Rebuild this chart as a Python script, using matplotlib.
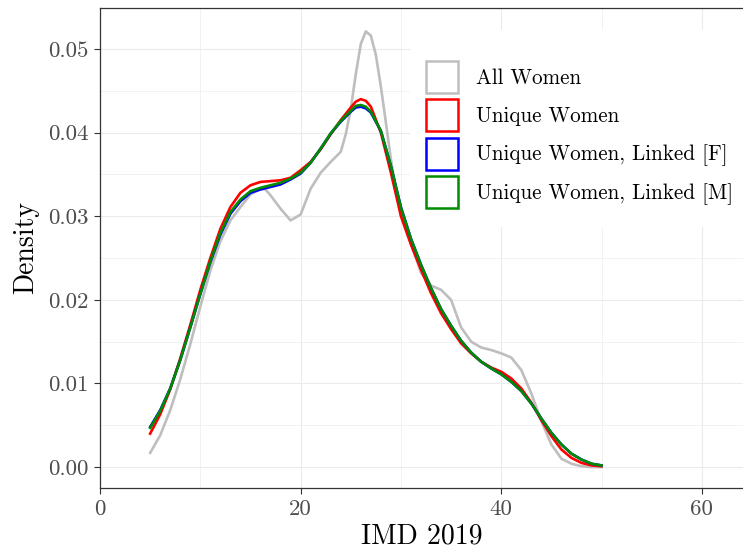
import matplotlib
matplotlib.use("Agg")
import matplotlib.pyplot as plt
from matplotlib.patches import Patch, Rectangle
from matplotlib.ticker import MultipleLocator

plt.rcParams["font.family"] = "cmr10"
plt.rcParams["mathtext.fontset"] = "cm"
plt.rcParams["axes.formatter.use_mathtext"] = True

x_all = [5, 6, 7, 8, 9, 10, 11, 12, 13, 14, 15, 16, 16.5, 17, 18, 19, 20, 21, 22, 23, 24,
         24.5, 25, 25.5, 26, 26.5, 27, 27.5, 28, 28.5, 29, 29.5, 30, 31, 32, 33, 34, 35, 36,
         37, 38, 39, 40, 41, 42, 43, 44, 45, 46, 47, 48, 49, 50]
y_all = [0.0017, 0.0038, 0.0068, 0.0105, 0.0147, 0.0192, 0.0235, 0.0270, 0.0295, 0.0311,
         0.0326, 0.0333, 0.0332, 0.0325, 0.0309, 0.0295, 0.0302, 0.0333, 0.0352, 0.0365,
         0.0377, 0.0398, 0.0428, 0.0470, 0.0506, 0.0521, 0.0516, 0.0493, 0.0455, 0.0412,
         0.0368, 0.0332, 0.0302, 0.0268, 0.0232, 0.0217, 0.0212, 0.0200, 0.0167, 0.0150,
         0.0143, 0.0140, 0.0136, 0.0131, 0.0116, 0.0088, 0.0055, 0.0027, 0.0010, 0.0004,
         0.0001, 0.0000, 0.0000]

x_unique = [5, 6, 7, 8, 9, 10, 11, 12, 13, 14, 15, 16, 17, 18, 19, 20, 21, 22, 23, 24,
            25, 25.5, 26, 26.5, 27, 28, 29, 30, 31, 32, 33, 34, 35, 36, 37, 38, 39, 40,
            41, 42, 43, 44, 45, 46, 47, 48, 49, 50]
y_unique = [0.0040, 0.0063, 0.0093, 0.0130, 0.0170, 0.0212, 0.0250, 0.0285, 0.0311, 0.0328,
            0.0337, 0.0341, 0.0342, 0.0343, 0.0346, 0.0355, 0.0365, 0.0380, 0.0398, 0.0415,
            0.0430, 0.0437, 0.0440, 0.0438, 0.0431, 0.0400, 0.0352, 0.0300, 0.0266, 0.0236,
            0.0208, 0.0184, 0.0165, 0.0148, 0.0136, 0.0126, 0.0119, 0.0114, 0.0106, 0.0094,
            0.0077, 0.0056, 0.0037, 0.0021, 0.0011, 0.0005, 0.0002, 0.0001]
y_linked_f = [0.0048, 0.0068, 0.0094, 0.0128, 0.0167, 0.0207, 0.0245, 0.0278, 0.0303, 0.0318,
              0.0328, 0.0332, 0.0335, 0.0338, 0.0344, 0.0351, 0.0364, 0.0381, 0.0399, 0.0413,
              0.0425, 0.0430, 0.0431, 0.0429, 0.0424, 0.0402, 0.0360, 0.0311, 0.0273, 0.0242,
              0.0214, 0.0189, 0.0169, 0.0151, 0.0137, 0.0126, 0.0118, 0.0111, 0.0102, 0.0091,
              0.0076, 0.0058, 0.0041, 0.0027, 0.0016, 0.0009, 0.0004, 0.0002]
y_linked_m = [0.0047, 0.0067, 0.0094, 0.0128, 0.0167, 0.0207, 0.0246, 0.0280, 0.0305, 0.0320,
              0.0330, 0.0334, 0.0337, 0.0340, 0.0345, 0.0352, 0.0364, 0.0381, 0.0399, 0.0414,
              0.0426, 0.0432, 0.0433, 0.0431, 0.0425, 0.0402, 0.0360, 0.0310, 0.0273, 0.0242,
              0.0214, 0.0189, 0.0169, 0.0151, 0.0137, 0.0126, 0.0118, 0.0111, 0.0102, 0.0091,
              0.0076, 0.0058, 0.0041, 0.0027, 0.0016, 0.0009, 0.0004, 0.0002]

labels = ["All Women", "Unique Women", "Unique Women, Linked [F]", "Unique Women, Linked [M]"]
colors = ["#bebebe", "#ff0000", "#0000ff", "#008b00"]

fig = plt.figure(figsize=(7.43, 5.56), dpi=100)
ax = fig.add_axes([100 / 743, 1 - 488 / 556, 1 - 100 / 743, 480 / 556])

lw = 1.9
ax.plot(x_all, y_all, color=colors[0], lw=lw, zorder=3, solid_joinstyle="round")
ax.plot(x_unique, y_unique, color=colors[1], lw=lw, zorder=4, solid_joinstyle="round")
ax.plot(x_unique, y_linked_f, color=colors[2], lw=lw, zorder=5, solid_joinstyle="round")
ax.plot(x_unique, y_linked_m, color=colors[3], lw=lw, zorder=6, solid_joinstyle="round")

ax.set_xlim(0, 64.1)
ax.set_ylim(-0.0025, 0.0549)
ax.xaxis.set_major_locator(MultipleLocator(20))
ax.xaxis.set_minor_locator(MultipleLocator(10))
ax.yaxis.set_major_locator(MultipleLocator(0.01))
ax.yaxis.set_minor_locator(MultipleLocator(0.005))
ax.yaxis.set_major_formatter(plt.FuncFormatter(lambda v, p: f"{v:.2f}"))
ax.xaxis.set_major_formatter(plt.FuncFormatter(lambda v, p: f"{v:.0f}"))

ax.grid(which="major", color="#ebebeb", lw=0.8, zorder=0)
ax.grid(which="minor", color="#ebebeb", lw=0.45, zorder=0)
ax.set_axisbelow(True)

for s in ["left", "bottom", "top"]:
    ax.spines[s].set_color("#333333")
    ax.spines[s].set_linewidth(0.9)
ax.spines["right"].set_visible(False)
ax.tick_params(which="major", length=4.5, width=0.8, color="#333333",
               labelcolor="#4d4d4d", labelsize=16.5)
ax.tick_params(which="minor", length=0)

ax.set_xlabel("IMD 2019", fontsize=20, labelpad=3)
ax.set_ylabel("Density", fontsize=20, labelpad=7)

# white legend background, covering the grid
ax.add_patch(Rectangle((410 / 743, 1 - 227 / 556), 1, 197 / 556, transform=fig.transFigure,
                       facecolor="white", edgecolor="none", zorder=2))
handles = [Patch(facecolor="white", edgecolor=c, lw=1.8) for c in colors]
leg = fig.legend(handles, labels, loc="upper left", bbox_to_anchor=(426 / 743, 1 - 61 / 556),
                 frameon=False, fontsize=15.2, handlelength=1.52, handleheight=1.96,
                 handletextpad=0.85, labelspacing=0.3, borderpad=0, borderaxespad=0)

fig.savefig("out.png", dpi=100)
